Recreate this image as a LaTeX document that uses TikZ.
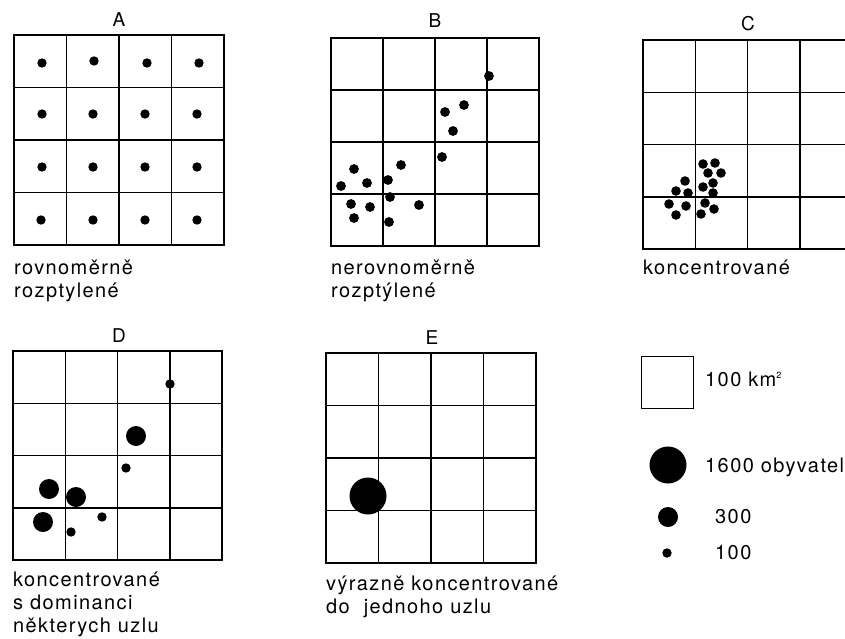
\documentclass[tikz,border=0pt]{standalone}
\usepackage{fontspec}
\setmainfont{TeX Gyre Heros}[LetterSpace=7]
\usetikzlibrary{positioning}

\tikzset{
  cellline/.style={draw=black,line width=1.3pt},
  frameline/.style={draw=black,line width=1.8pt},
  pics/panel/.style={code={
    \foreach \i in {1,2,3} {
      \draw[cellline] (\i*#1,0) -- (\i*#1,4*#1);
      \draw[cellline] (0,\i*#1) -- (4*#1,\i*#1);
    }
    \draw[frameline] (0,0) rectangle (4*#1,4*#1);
  }}
}

\begin{document}
\begin{tikzpicture}[x=1pt,y=-1pt, every node/.style={font=\fontsize{20}{23}\selectfont,inner sep=0pt},
  title/.style={font=\fontsize{19}{20}\selectfont,anchor=base},
  caption/.style={anchor=base west,align=left},
  smalldot/.style={fill=black,circle,minimum size=9.4pt},
  middot/.style={fill=black,circle,minimum size=20pt},
  bigdot/.style={fill=black,circle,minimum size=37pt}]
\useasboundingbox[fill=white] (0,0) rectangle (845,639);

% A: rovnomerne
\node[title] (titleA) at (119,27) {A};
\pic at (14,35) {panel=52.5};
\foreach \px/\py in {42/63,94/61,147/63,199/63, 42/114,93/114,145/114,197/114,
                     42/167,93/167,145/167,197/167, 41/220,93/220,145/220,197/220}
  \fill (\px,\py) circle[radius=4.7];
\node[caption] (capA) at (14,297) {rovnoměrně\\rozptylené};

% B: nerovnomerne
\node[title] (titleB) at (435,28) {B};
\pic at (331,38) {panel=52};
\foreach \px/\py in {489/76,464/105,445/112,453/131,442/157,401/165,354/169,341/186,
                     367/183,388/180,390/197,351/204,370/207,354/218,389/222,419/205}
  \fill (\px,\py) circle[radius=4.9];
\node[caption] (capB) at (331,297) {nerovnoměrně\\rozptýlené};

% C: koncentrovane
\node[title] (titleC) at (748,31) {C};
\pic at (643,40) {panel=52.3};
\foreach \px/\py in {703/164,715/163,708/173,721/173,685/181,713/183,703/187,676/191,
                     688/193,713/193,669/204,686/206,705/203,714/209,676/215,701/214}
  \fill (\px,\py) circle[radius=4.8];
\node[caption] (capC) at (643,274) {koncentrované};

% D: s dominanci
\node[title] (titleD) at (119,342) {D};
\pic at (13,351) {panel=52.3};
\foreach \px/\py in {170/384,126/468,102/517,71/532}
  \fill (\px,\py) circle[radius=4.7];
\foreach \px/\py in {136/436,49/489,76/497,43/522}
  \fill (\px,\py) circle[radius=10];
\node[caption] (capD) at (13,632) {koncentrované\\s dominanci\\některych uzlu};

% E: jeden uzel
\node[title] (titleE) at (432,344) {E};
\pic at (326,353) {panel=52.5};
\fill (368,496) circle[radius=18.5];
\node[caption] (capE) at (326,613) {výrazně koncentrované\\do\ \ jednoho uzlu};

% legenda
\node[draw=black,line width=1pt,minimum size=52pt] (keycell) at (667.5,382) {};
\node[anchor=base west] (keyarea) at (705,386) {100 km\textsuperscript{\fontsize{9}{9}\selectfont 2}};
\node[bigdot] (keybig) at (668,465) {};
\node[anchor=base west] (keybigtxt) at (705,472) {1600 obyvatel};
\node[middot] (keymid) at (668,517) {};
\node[anchor=base west] (keymidtxt) at (715,523) {300};
\node[smalldot] (keysmall) at (667,553) {};
\node[anchor=base west] (keysmalltxt) at (715,559) {100};
\end{tikzpicture}
\end{document}
